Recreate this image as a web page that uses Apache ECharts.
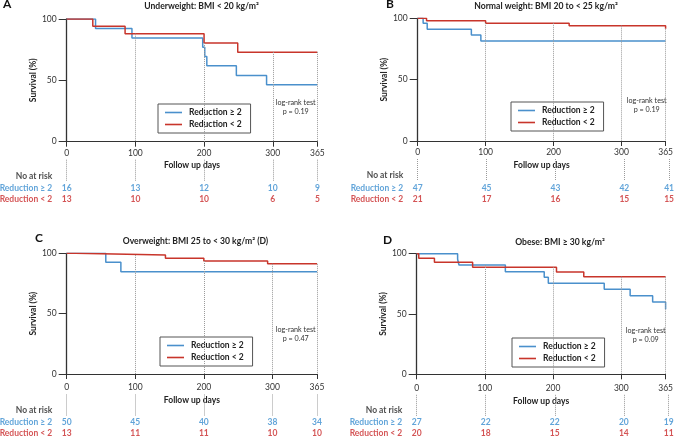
<!DOCTYPE html>
<html>
<head>
<meta charset="utf-8">
<title>Survival by BMI group</title>
<script src="https://cdn.jsdelivr.net/npm/echarts@6/dist/echarts.min.js"></script>
<style>
  html, body { margin: 0; padding: 0; background: #fff; }
  #chart { width: 676px; height: 437px; }
</style>
</head>
<body>
<div id="chart"></div>
<script>
// follow up ticks (days) and group names
const tickDays = [0, 100, 200, 300, 365];
const seriesNames = ["Reduction ≥ 2", "Reduction < 2"];
const rowNames = ["No at risk", "Reduction ≥ 2", "Reduction < 2"];

const panelLetters = ["A", "B", "C", "D"];
const panelTitles = [
    "Underweight: BMI < 20 kg/m²",
    "Normal weight: BMI 20 to < 25 kg/m²",
    "Overweight: BMI 25 to < 30 kg/m² (D)",
    "Obese: BMI ≥ 30 kg/m²"
];
const pValues = ["0.19", "0.19", "0.47", "0.09"];

// A - underweight
const aHighDays = [0, 42, 95, 198, 201, 204, 247, 291, 365];
const aHighSurv = [100, 92.3, 84.6, 77, 69.5, 62, 54, 46.5, 46.5];
const aLowDays = [0, 38, 85, 200, 249, 365];
const aLowSurv = [100, 94, 88, 80.5, 73, 73];
const aRiskHigh = [16, 13, 12, 10, 9];
const aRiskLow = [13, 10, 10, 6, 5];

// B - normal weight
const bHighDays = [0, 8, 14, 79, 93, 365];
const bHighSurv = [100, 96, 91, 86.4, 81.5, 81.5];
const bLowDays = [0, 13, 100, 223, 365];
const bLowSurv = [100, 98, 96, 94, 91.5];
const bRiskHigh = [47, 45, 43, 42, 41];
const bRiskLow = [21, 17, 16, 15, 15];

// C - overweight
const cHighDays = [0, 57, 79, 365];
const cHighSurv = [100, 92.5, 84.8, 84.8];
const cLowDays = [0, 13, 144, 200, 293, 365];
const cLowSurv = [100, 98.5, 96, 93.6, 91.3, 91.3];
const cRiskHigh = [50, 45, 40, 38, 34];
const cRiskLow = [13, 11, 11, 10, 10];

// D - obese
const dHighDays = [0, 60, 62, 130, 187, 193, 275, 313, 346, 365];
const dHighSurv = [100, 95.4, 90.6, 85.1, 80.4, 75.4, 70.5, 65.2, 60, 54];
const dLowDays = [0, 3, 26, 82, 205, 245, 365];
const dLowSurv = [100, 96.2, 92.9, 88.7, 84.8, 80.9, 80.9];
const dRiskHigh = [27, 22, 22, 20, 19];
const dRiskLow = [20, 18, 15, 14, 11];

const panels = [
    { high: [aHighDays, aHighSurv], low: [aLowDays, aLowSurv], riskHigh: aRiskHigh, riskLow: aRiskLow },
    { high: [bHighDays, bHighSurv], low: [bLowDays, bLowSurv], riskHigh: bRiskHigh, riskLow: bRiskLow },
    { high: [cHighDays, cHighSurv], low: [cLowDays, cLowSurv], riskHigh: cRiskHigh, riskLow: cRiskLow },
    { high: [dHighDays, dHighSurv], low: [dLowDays, dLowSurv], riskHigh: dRiskHigh, riskLow: dRiskLow }
];

// layout of each panel (pixels)
const layout = [
    { left: 66.7, top: 19, width: 250.7, height: 122.7, tableGap: 18, labelMargin: 7, nameGap: 19.5,
      letterX: 3, letterY: 5, titleX: 201.5, titleY: 6, legendLeft: 158, legendTop: 104, testDy: 88.3 },
    { left: 417.7, top: 18.3, width: 251.4, height: 122.7, tableGap: 18, labelMargin: 7, nameGap: 19.5,
      letterX: 386, letterY: 5, titleX: 546, titleY: 6, legendLeft: 511, legendTop: 102, testDy: 86.7 },
    { left: 66.7, top: 253.3, width: 250.3, height: 120.7, tableGap: 20.5, labelMargin: 9, nameGap: 22,
      letterX: 35, letterY: 239, titleX: 195.5, titleY: 241.7, legendLeft: 160, legendTop: 337, testDy: 81 },
    { left: 416.7, top: 253.7, width: 252, height: 120.6, tableGap: 20.5, labelMargin: 9, nameGap: 22,
      letterX: 383, letterY: 241, titleX: 560, titleY: 242.7, legendLeft: 512, legendTop: 338, testDy: 81.3 }
];
// rows of the at-risk table, in table-grid units (1 unit = 1px)
const ROW_Y = [16.5, 28.8, 39.8];
const GUIDE_END = 22;

const FONT = "Lato";
const BLUE = "#4a90cc", RED = "#c8352b";
const BLUE_TXT = "#3a8dd0", RED_TXT = "#c9292a";

function pairs(days, surv) {
    return days.map((d, i) => [d, surv[i]]);
}
function stepValue(days, surv, t) {
    let v = surv[0];
    for (let i = 0; i < days.length; i++) if (days[i] <= t) v = surv[i];
    return v;
}

const grid = [], xAxis = [], yAxis = [], series = [], legend = [], graphic = [];

panels.forEach((p, i) => {
    const L = layout[i];
    const plotIdx = i * 2, tabIdx = i * 2 + 1;
    const tableTop = L.top + L.height + L.tableGap;

    grid.push({ left: L.left, top: L.top, width: L.width, height: L.height });
    grid.push({ left: L.left, top: tableTop, width: L.width, height: 44 });

    xAxis.push({
        gridIndex: plotIdx, type: "value", min: 0, max: 365, interval: 100,
        name: "Follow up days", nameLocation: "middle", nameGap: L.nameGap,
        nameTextStyle: { fontFamily: FONT, fontSize: 8.5, fontWeight: "bold", color: "#222" },
        axisLine: { show: true, lineStyle: { color: "#333", width: 1 } },
        axisTick: { show: true, length: 5, lineStyle: { color: "#333" } },
        axisLabel: { margin: L.labelMargin, fontFamily: FONT, fontSize: 8.5, color: "#333", showMaxLabel: true },
        splitLine: { show: false }
    });
    xAxis.push({ gridIndex: tabIdx, type: "value", min: 0, max: 365, show: false });

    yAxis.push({
        gridIndex: plotIdx, type: "value", min: 0, max: 100, interval: 50,
        name: "Survival (%)", nameLocation: "middle", nameGap: 26,
        nameTextStyle: { fontFamily: FONT, fontSize: 8.5, fontWeight: "bold", color: "#222" },
        axisLine: { show: true, lineStyle: { color: "#333", width: 1.3 } },
        axisTick: { show: true, length: 8, lineStyle: { color: "#333" } },
        axisLabel: { margin: 10, fontFamily: FONT, fontSize: 8.5, color: "#333" },
        splitLine: { show: false }
    });
    yAxis.push({ gridIndex: tabIdx, type: "value", min: 0, max: 44, inverse: true, show: false });

    // dotted guides from the upper curve down to the axis
    const guides = tickDays.slice(1).map(t => {
        const top = Math.max(stepValue(p.high[0], p.high[1], t), stepValue(p.low[0], p.low[1], t));
        return [{ coord: [t, top] }, { coord: [t, 0] }];
    });

    series.push({
        type: "line", name: seriesNames[0], xAxisIndex: plotIdx, yAxisIndex: plotIdx,
        data: pairs(p.high[0], p.high[1]), step: "end", symbol: "none", silent: true,
        lineStyle: { color: BLUE, width: 1.5 }, itemStyle: { color: BLUE },
        markLine: {
            silent: true, symbol: ["none", "none"], label: { show: false },
            lineStyle: { type: "dotted", color: "#9a9a9a", width: 1 },
            emphasis: { disabled: true }, data: guides
        }
    });
    series.push({
        type: "line", name: seriesNames[1], xAxisIndex: plotIdx, yAxisIndex: plotIdx,
        data: pairs(p.low[0], p.low[1]), step: "end", symbol: "none", silent: true,
        lineStyle: { color: RED, width: 1.5 }, itemStyle: { color: RED }
    });

    // at-risk numbers
    const cells = [];
    tickDays.forEach((t, j) => {
        cells.push({ value: [t, ROW_Y[1], p.riskHigh[j]], label: { color: BLUE_TXT } });
        cells.push({ value: [t, ROW_Y[2], p.riskLow[j]], label: { color: RED_TXT } });
    });
    series.push({
        type: "scatter", name: "risk" + i, xAxisIndex: tabIdx, yAxisIndex: tabIdx,
        data: cells, symbolSize: 1, itemStyle: { color: "rgba(0,0,0,0)" }, silent: true,
        label: {
            show: true, position: "inside", formatter: q => q.value[2],
            fontFamily: FONT, fontSize: 8.5, fontWeight: "bold"
        },
        markLine: {
            silent: true, symbol: ["none", "none"], label: { show: false },
            lineStyle: { type: "dotted", color: "#9a9a9a", width: 1 },
            emphasis: { disabled: true },
            data: tickDays.map(t => [{ coord: [t, 0] }, { coord: [t, GUIDE_END] }])
        }
    });
    // row names
    const rowColors = ["#222", BLUE_TXT, RED_TXT];
    series.push({
        type: "scatter", name: "rows" + i, xAxisIndex: tabIdx, yAxisIndex: tabIdx,
        data: rowNames.map((n, k) => ({ name: n, value: [0, ROW_Y[k]], label: { color: rowColors[k] } })),
        symbolSize: 1, itemStyle: { color: "rgba(0,0,0,0)" }, silent: true,
        label: {
            show: true, position: "left", distance: 14, formatter: "{b}",
            fontFamily: FONT, fontSize: 8.5, fontWeight: "bold"
        }
    });

    legend.push({
        data: seriesNames, left: L.legendLeft, top: L.legendTop, orient: "vertical",
        icon: "rect", itemWidth: 17, itemHeight: 1.6, itemGap: 3, padding: [4, 9, 4, 7],
        borderColor: "#555", borderWidth: 1, selectedMode: false,
        textStyle: { fontFamily: FONT, fontSize: 8.5, fontWeight: "bold", color: "#222", padding: [0, 0, 0, 2] }
    });

    graphic.push({
        type: "text", left: L.letterX, top: L.letterY - 7,
        style: { text: panelLetters[i], fontFamily: FONT, fontSize: 12, fontWeight: "bold", fill: "#111" }
    });
    graphic.push({
        type: "text", x: L.titleX, y: L.titleY,
        style: { text: panelTitles[i], fontFamily: FONT, fontSize: 8.6, fontWeight: "bold", fill: "#222",
                 align: "center", verticalAlign: "middle" }
    });
    graphic.push({
        type: "text", x: L.left + 229, y: L.top + L.testDy,
        style: { text: "log-rank test\np = " + pValues[i], fontFamily: FONT, fontSize: 7.2, fill: "#333",
                 align: "center", verticalAlign: "middle", lineHeight: 9.5 }
    });
});

const chart = echarts.init(document.getElementById("chart"));
chart.setOption({
    animation: false,
    backgroundColor: "#fff",
    grid: grid,
    xAxis: xAxis,
    yAxis: yAxis,
    legend: legend,
    series: series,
    graphic: graphic
});
</script>
</body>
</html>
